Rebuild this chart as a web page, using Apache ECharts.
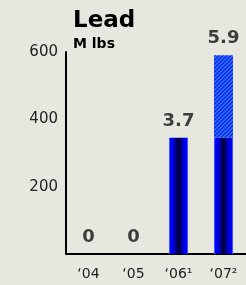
<!DOCTYPE html>
<html><head><meta charset="utf-8">
<script src="https://cdn.jsdelivr.net/npm/echarts@6/dist/echarts.min.js"></script>
<style>html,body{margin:0;padding:0;background:#e7e6df}#c{width:246px;height:285px}</style>
</head><body><div id="c"></div>
<script>
var categories = ['\u201804', '\u201805', '\u201806\u00b9', '\u201807\u00b2'];
var baseValues = [0, 0, 345, 345];
var extraValues = [null, null, null, 245];
var totalValues = [0, 0, 345, 590];
var labelTexts = ['0', '0', '3.7', '5.9'];
var yTicks = [0, 200, 400, 600];
var titleText = 'Lead';
var unitText = 'M lbs';

var pc = document.createElement('canvas');
pc.width = 4; pc.height = 4;
var g = pc.getContext('2d');
g.fillStyle = '#0a2cf0'; g.fillRect(0,0,4,4);
g.fillStyle = '#2f6cff';
for (var i = 0; i < 4; i++) { g.fillRect((3 - i + 4) % 4, i, 1, 1); g.fillRect((4 - i + 4) % 4, i, 1, 1); }

var grad = new echarts.graphic.LinearGradient(0, 0, 1, 0, [
  {offset: 0, color: '#5a7bff'},
  {offset: 0.08, color: '#0000ff'},
  {offset: 0.25, color: '#0000d0'},
  {offset: 0.5, color: '#000030'},
  {offset: 0.75, color: '#0000d0'},
  {offset: 0.92, color: '#0000ff'},
  {offset: 1, color: '#5a7bff'}
]);

var chart = echarts.init(document.getElementById('c'));
chart.setOption({
  backgroundColor: '#e7e6df',
  animation: false,
  graphic: [
    {type: 'text', left: 73, top: 10, style: {text: titleText, font: 'bold 23px "DejaVu Sans"', fill: '#000'}},
    {type: 'text', left: 73, top: 37, style: {text: unitText, font: 'bold 14px "DejaVu Sans"', fill: '#000'}}
  ],
  grid: {left: 66, right: 0, top: 52, bottom: 31},
  xAxis: {
    type: 'category', data: categories,
    axisLine: {lineStyle: {color: '#000', width: 2}},
    axisTick: {show: false},
    axisLabel: {fontFamily: 'DejaVu Sans', fontSize: 14, color: '#222', margin: 13}
  },
  yAxis: {
    type: 'value', min: yTicks[0], max: yTicks[yTicks.length - 1], interval: 200,
    axisLine: {show: true, lineStyle: {color: '#000', width: 2}},
    axisTick: {show: false},
    splitLine: {show: false},
    axisLabel: {fontFamily: 'DejaVu Sans', fontSize: 15, color: '#222', margin: 8, padding: [5, 0, 0, 0],
      formatter: function (v) { return v === 0 ? '' : String(v); }}
  },
  series: [
    {type: 'bar', stack: 's', barWidth: 19, data: baseValues, itemStyle: {color: grad}},
    {type: 'bar', stack: 's', barWidth: 19, data: extraValues, itemStyle: {color: {image: pc, repeat: 'repeat'}}},
    {type: 'scatter', data: totalValues, symbolSize: 0, silent: true,
      label: {show: true, position: 'top', distance: 8, fontFamily: 'DejaVu Sans', fontSize: 18, fontWeight: 'bold', color: '#111',
        formatter: function (p) { return labelTexts[p.dataIndex]; }}}
  ]
});
</script></body></html>
